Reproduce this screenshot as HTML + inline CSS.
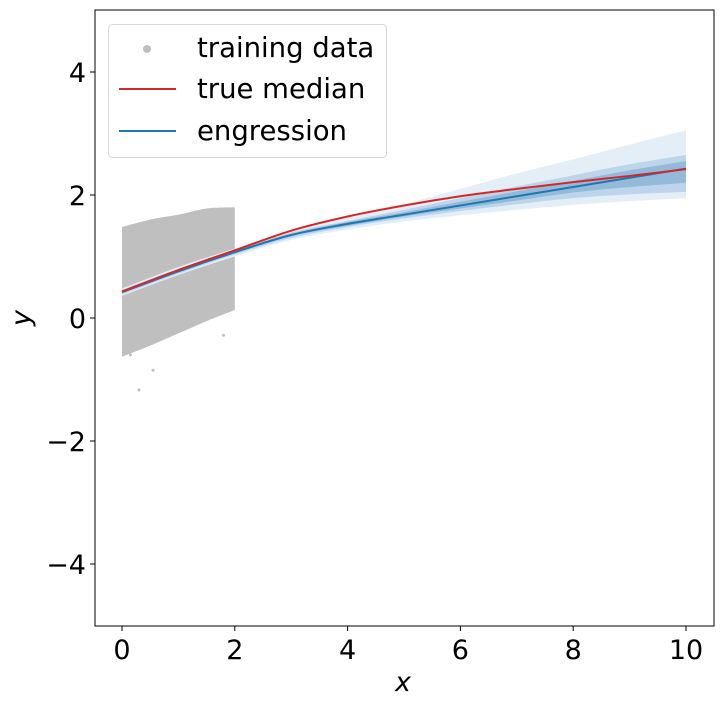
<!DOCTYPE html>
<html><head><meta charset="utf-8"><style>
body{margin:0;background:#fff;}
svg{display:block;font-family:"DejaVu Sans","Liberation Sans",sans-serif;}
</style></head><body>
<svg id="chart" width="724" height="707">
<g id="content"></g>
<text x="403" y="691" font-size="27" font-style="italic" text-anchor="middle">x</text>
<text x="30" y="318" font-size="27" font-style="italic" text-anchor="middle" transform="rotate(-90 30 318)">y</text>
<g>
<rect x="108.5" y="24.5" width="278" height="133" rx="4" fill="#fff" fill-opacity="0.8" stroke="#d6d6d6"/>
<circle cx="147" cy="49" r="4" fill="#bfbfbf"/>
<text x="197" y="57" font-size="27.5">training data</text>
<line x1="119" y1="89" x2="176" y2="89" stroke="#d62728" stroke-width="2"/>
<text x="197" y="98" font-size="27.5">true median</text>
<line x1="119" y1="131" x2="176" y2="131" stroke="#1f77b4" stroke-width="2"/>
<text x="197" y="140" font-size="27.5">engression</text>
</g>
</svg>
<script>
const xs=[0,1,2,3,4,5,6,7,8,9,10];
const trueMedian=[0.43,0.78,1.10,1.42,1.65,1.83,1.98,2.10,2.21,2.31,2.42];
const engMedian=[0.42,0.76,1.07,1.35,1.53,1.68,1.83,1.98,2.13,2.28,2.43];
const outerHi=[0.48,0.83,1.13,1.42,1.63,1.85,2.10,2.35,2.58,2.82,3.05];
const outerLo=[0.36,0.70,1.00,1.27,1.44,1.57,1.67,1.76,1.84,1.90,1.95];
const midHi=[0.46,0.80,1.10,1.39,1.58,1.76,1.95,2.14,2.32,2.50,2.65];
const midLo=[0.38,0.72,1.03,1.30,1.48,1.62,1.74,1.85,1.95,2.01,2.05];
const innerHi=[0.44,0.78,1.09,1.37,1.56,1.72,1.89,2.06,2.23,2.40,2.55];
const innerLo=[0.40,0.74,1.05,1.33,1.50,1.65,1.78,1.91,2.04,2.13,2.20];
const cloudX=[0,0.5,1,1.5,2];
const cloudHi=[1.48,1.60,1.68,1.78,1.80];
const cloudLo=[-0.63,-0.45,-0.25,-0.05,0.13];
const outlierX=[0.3,0.55,0.15,1.8];
const outlierY=[-1.17,-0.85,-0.6,-0.28];
const xTicks=[0,2,4,6,8,10];
const yTicks=[-4,-2,0,2,4];

const L=95,R=714,T=10,B=626;
const X=v=>122+v*56.4;
const Y=v=>318-v*61.5;
const NS='http://www.w3.org/2000/svg';
const g=document.getElementById('content');
function mk(tag,attrs,parent){const e=document.createElementNS(NS,tag);for(const k in attrs)e.setAttribute(k,attrs[k]);(parent||g).appendChild(e);return e;}
function smooth(pts,start){
  let d=(start?'M':'L')+pts[0][0]+','+pts[0][1];
  for(let i=0;i<pts.length-1;i++){
    const p0=pts[Math.max(i-1,0)],p1=pts[i],p2=pts[i+1],p3=pts[Math.min(i+2,pts.length-1)];
    const c1=[p1[0]+(p2[0]-p0[0])/6,p1[1]+(p2[1]-p0[1])/6];
    const c2=[p2[0]-(p3[0]-p1[0])/6,p2[1]-(p3[1]-p1[1])/6];
    d+='C'+c1+' '+c2+' '+p2;
  }
  return d;
}
function band(hi,lo,fill,name){
  const top=xs.map((x,i)=>[X(x),Y(hi[i])]);
  const bot=xs.map((x,i)=>[X(x),Y(lo[i])]).reverse();
  const p=mk('path',{d:smooth(top,true)+smooth(bot,false)+'Z',fill:fill});
  
  
}
{
  const top=cloudX.map((x,i)=>[X(x),Y(cloudHi[i])]);
  const bot=cloudX.map((x,i)=>[X(x),Y(cloudLo[i])]).reverse();
  const p=mk('path',{d:smooth(top,true)+smooth(bot,false)+'Z',fill:'#bfbfbf'});
  
  
  outlierX.forEach((x,i)=>{const c=mk('circle',{cx:X(x),cy:Y(outlierY[i]),r:1.5,fill:'#bfbfbf'});
    
    });
}
band(outerHi,outerLo,'#e3eef7','band-outer');
band(midHi,midLo,'#bdd5ea','band-middle');
band(innerHi,innerLo,'#93bad9','band-inner');
function line(vals,color,name){
  const p=mk('path',{d:smooth(xs.map((x,i)=>[X(x),Y(vals[i])]),true),fill:'none',stroke:color,'stroke-width':2});
  
  
}
line(engMedian,'#1f77b4','engression-line');
line(trueMedian,'#d62728','true-median-line');
const fr=mk('rect',{x:L,y:T,width:R-L,height:B-T,fill:'none',stroke:'#000','stroke-width':1});


xTicks.forEach(v=>{
  mk('line',{x1:X(v),x2:X(v),y1:B,y2:B+5,stroke:'#000'});
  const t=mk('text',{x:X(v),y:B+33,'font-size':27,'text-anchor':'middle'});
  t.textContent=String(v);
  
  
});
yTicks.forEach(v=>{
  mk('line',{x1:L-5,x2:L,y1:Y(v),y2:Y(v),stroke:'#000'});
  const t=mk('text',{x:L-9,y:Y(v)+10,'font-size':27,'text-anchor':'end'});
  t.textContent=v<0?'\u2212'+(-v):String(v);
  
  
});
</script>
</body></html>
